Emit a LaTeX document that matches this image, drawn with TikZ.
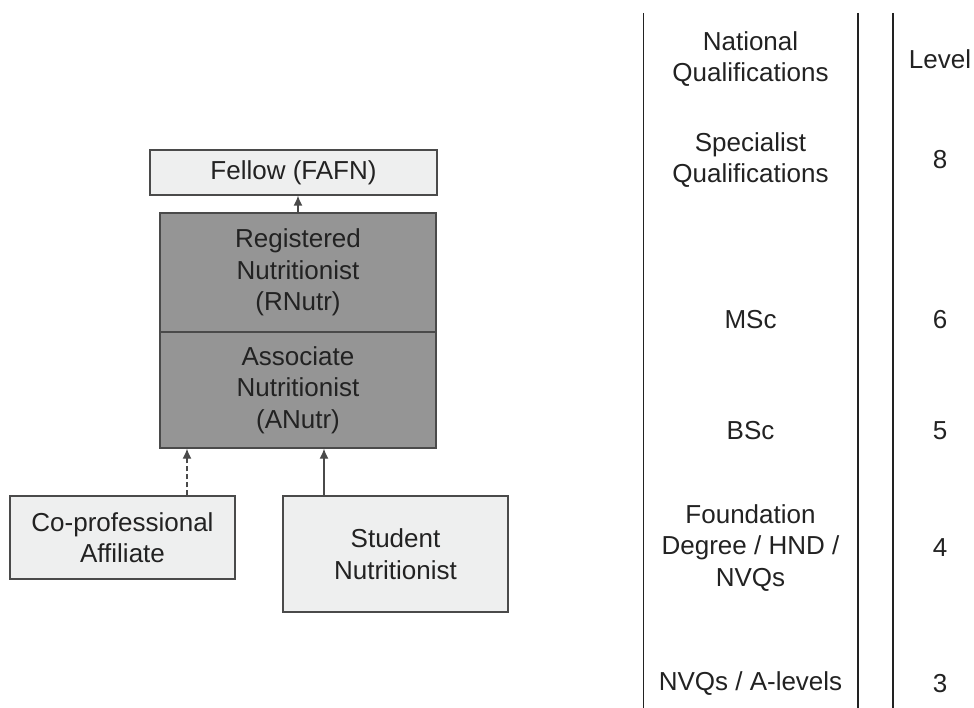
\documentclass[tikz,border=0pt]{standalone}
\usepackage{fontspec}
\setmainfont{Liberation Sans}
\usetikzlibrary{arrows.meta}
\definecolor{lightbox}{HTML}{EEEFEF}
\definecolor{darkbox}{HTML}{959595}
\definecolor{edgegray}{HTML}{4A4A4A}
\definecolor{txt}{HTML}{222222}
\tikzset{
  lbl/.style={font=\fontsize{26}{31.5}\selectfont, text=txt, align=center, inner sep=0pt},
  lightnode/.style={lbl, draw=edgegray, line width=1.3pt, fill=lightbox},
  darknode/.style={lbl, draw=edgegray, line width=1.3pt, fill=darkbox},
  conn/.style={draw=edgegray, line width=1.3pt, -{Latex[length=10pt,width=9pt]}},
  rule/.style={draw=txt, line width=1.1pt}
}
\begin{document}
\begin{tikzpicture}[x=1pt,y=-1pt]
\useasboundingbox (0,0) rectangle (974,708);
% left hierarchy
\node[lightnode, minimum width=287pt, minimum height=45pt] (fellow) at (293.5,172.5) {Fellow (FAFN)};
\node[darknode, minimum width=276pt, minimum height=119pt] (rnutr) at (298,272.5) {Registered\\Nutritionist\\(RNutr)};
\node[darknode, minimum width=276pt, minimum height=116pt] (anutr) at (298,390) {Associate\\Nutritionist\\(ANutr)};
\node[lightnode, minimum width=225pt, minimum height=83pt] (cop) at (122.5,537.5) {Co-professional\\Affiliate};
\node[lightnode, minimum width=225pt, minimum height=116pt] (stud) at (395.5,554) {Student\\Nutritionist};
\coordinate (cf) at (298,0);
\coordinate (cc) at (187,0);
\coordinate (cs) at (324,0);
\draw[conn] (cf |- rnutr.north) -- (cf |- fellow.south);
\draw[conn, dash pattern=on 5pt off 3pt] (cc |- cop.north) -- (cc |- anutr.south);
\draw[conn] (cs |- stud.north) -- (cs |- anutr.south);
% right table
\coordinate (l1t) at (643.5,13);
\coordinate (l1b) at (643.5,708);
\coordinate (l2t) at (858,13);
\coordinate (l2b) at (858,708);
\coordinate (l3t) at (893,13);
\coordinate (l3b) at (893,708);
\draw[rule] (l1t) -- (l1b);
\draw[rule] (l2t) -- (l2b);
\draw[rule] (l3t) -- (l3b);
\node[lbl] (natq) at (750.5,59) {National\\Qualifications};
\node[lbl] (lev) at (940,59) {Level};
\node[lbl] (spec) at (750.5,160) {Specialist\\Qualifications};
\node[lbl] (l8) at (940,160) {8};
\node[lbl] (msc) at (750.5,320) {MSc};
\node[lbl] (l6) at (940,320) {6};
\node[lbl] (bsc) at (750.5,431) {BSc};
\node[lbl] (l5) at (940,431) {5};
\node[lbl] (fdn) at (750.5,548) {Foundation\\Degree / HND /\\NVQs};
\node[lbl] (l4) at (940,548) {4};
\node[lbl] (nvq) at (750.5,684) {NVQs / A-levels};
\node[lbl] (l3) at (940,684) {3};
\end{tikzpicture}
\end{document}
